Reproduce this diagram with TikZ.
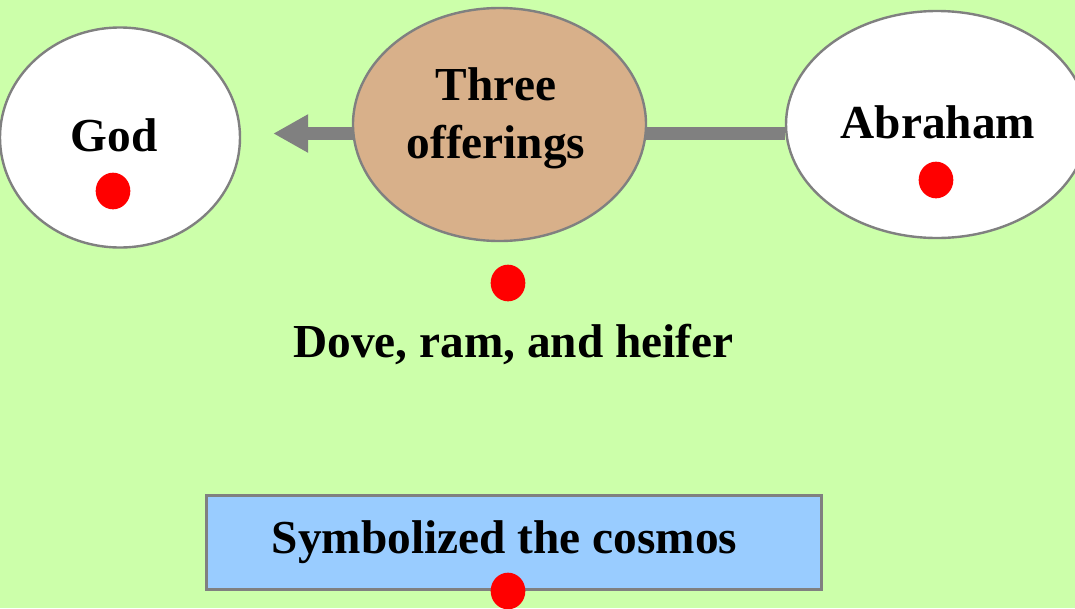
\documentclass[tikz,border=0pt]{standalone}
\usepackage{fontspec}
\setmainfont{Liberation Serif}
\usepackage{tikz}
\usetikzlibrary{arrows.meta, shapes.geometric}
\definecolor{pagegreen}{HTML}{CCFFAA}
\definecolor{offertan}{HTML}{D8B08A}
\definecolor{cosmosblue}{HTML}{99CCFF}
\definecolor{edgegray}{HTML}{808080}
\begin{document}
\begin{tikzpicture}[
  x=0.75pt, y=-0.75pt,
  font=\fontsize{35.5}{43}\selectfont\bfseries,
  oval/.style={ellipse, draw=edgegray, line width=1.8pt, fill=white, inner sep=0pt},
  reddot/.style={ellipse, fill=red, inner sep=0pt, minimum width=26pt, minimum height=27.5pt},
  lbl/.style={anchor=base, inner sep=0pt, align=center},
  cosmosbox/.style={rectangle, draw=edgegray, line width=2.25pt, fill=cosmosblue, inner sep=0pt},
  conn/.style={draw=edgegray, line width=10pt, -{Triangle[length=26.25pt, width=27pt]}},
]
\useasboundingbox (0,0) rectangle (1075,608);
\fill[pagegreen] (0,0) rectangle (1075,608);

% left and right ellipses
\node[oval, minimum width=180pt, minimum height=165pt] (god) at (120,137.5) {};
\node[oval, minimum width=226.5pt, minimum height=170.25pt] (abr) at (937,124.5) {};

% connector runs behind the middle ellipse
\coordinate (arrowrow) at (0,133.5);
\draw[conn, shorten >=24pt] (abr.west |- arrowrow) -- (god.east |- arrowrow);

\node[oval, fill=offertan, minimum width=219.75pt, minimum height=174.75pt] (offer) at (499.5,124.5) {};

\node[lbl] (godtxt) at (114,151) {God};
\node[lbl] (abrtxt) at (938,138) {Abraham};
\node[lbl] (offertxt) at (496,158) {Three\\offerings};

\node[reddot] (goddot) at (113,191) {};
\node[reddot] (abrdot) at (936,180) {};
\node[reddot] (offerdot) at (508,283) {};

\node[lbl] (animals) at (513.5,357) {Dove, ram, and heifer};

% bottom box
\node[cosmosbox, minimum width=461.25pt, minimum height=70.5pt] (cosmos) at (513.5,542) {};
\node[lbl] (cosmostxt) at (504.5,553) {Symbolized the cosmos};
\node[reddot] (cosmosdot) at (508,591) {};
\end{tikzpicture}
\end{document}
